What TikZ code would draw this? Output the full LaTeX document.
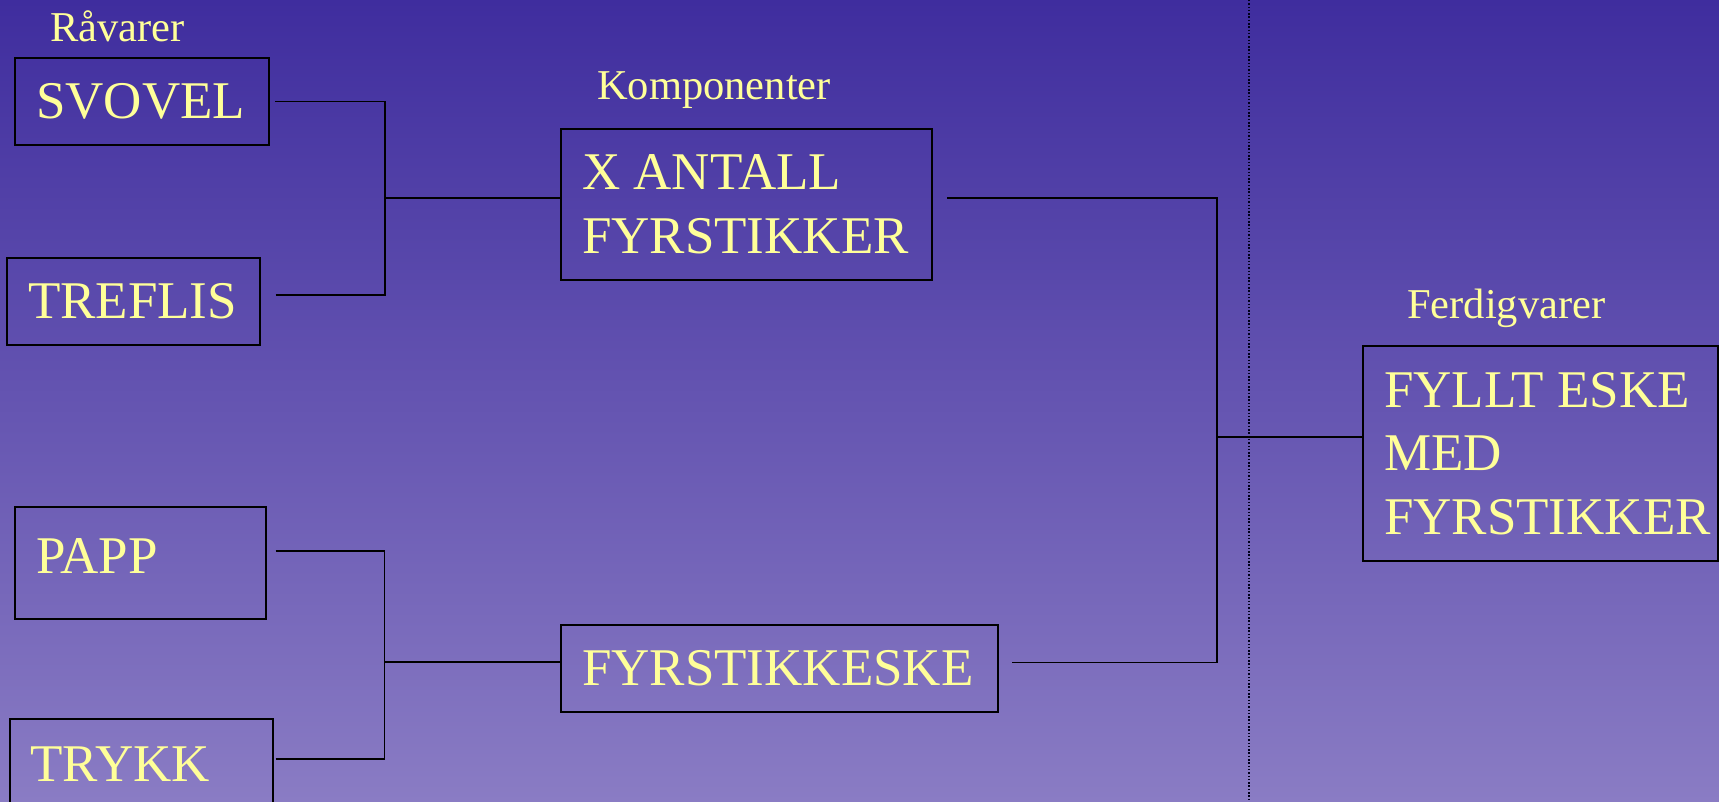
\documentclass[tikz,border=0pt]{standalone}
\usepackage{fontspec}
\setmainfont{Liberation Serif}
\usetikzlibrary{positioning, calc}
\definecolor{bgtop}{RGB}{63,45,158}
\definecolor{bgbot}{RGB}{138,124,196}
\definecolor{txt}{RGB}{255,255,153}
\tikzset{
    box/.style={draw=black, line width=2pt, anchor=north west, inner xsep=21pt, inner ysep=0pt, align=flush left, text=txt, font=\fontsize{53}{63.5}\selectfont},
    link/.style={line width=1.7pt},
    tag/.style={anchor=base west, inner sep=0pt, text=txt, font=\fontsize{42.5}{50}\selectfont},
    divider/.style={dash pattern=on 1.5pt off 1.8pt, line width=1.8pt, black!90!blue}
}

\begin{document}
\begin{tikzpicture}[x=1pt, y=-1pt]
    % Background
    \useasboundingbox (0,0) rectangle (1719,802);
    \shade[top color=bgtop, bottom color=bgbot] (0,0) rectangle (1719,802);
    \draw[divider] (1249,0) -- (1249,802);
    % Raw materials
    \node[tag] (ravarer) at (50,42) {Råvarer};
    \node[box, text width=211.5pt, minimum height=87pt] (svovel) at (14,57) {SVOVEL};
    \node[box, text width=211pt, minimum height=87pt] (treflis) at (6,257) {TREFLIS};
    \node[box, text width=208.5pt, minimum height=112pt, text depth=13pt] (papp) at (14,506) {PAPP};
    \node[box, text width=221pt, minimum height=112pt, text depth=21pt] (trykk) at (8.5,718) {TRYKK};
    % Components
    \node[tag] (komp) at (597,100) {Komponenter};
    \node[box, text width=329pt, minimum height=151pt] (xantall) at (560,128) {X~ANTALL\\FYRSTIKKER};
    \node[box, text width=395pt, minimum height=87pt] (fyrboks) at (560,624) {FYRSTIKKESKE};
    % Finished goods
    \node[tag] (ferdig) at (1407,319) {Ferdigvarer};
    \node[box, text width=313pt, minimum height=215pt] (fyllt) at (1362,345) {FYLLT~ESKE\\MED\\FYRSTIKKER};
    % Junctions
    \coordinate (ja) at (385,197.7);
    \coordinate (jb) at (384.5,661.7);
    \coordinate (jc) at (1217,437);
    % Links
    \draw[link] ([xshift=5.5pt]svovel.east) -| (ja);
    \draw[link] ([xshift=14.5pt,yshift=6.5pt]treflis.east) -| (ja);
    \draw[link] (ja) -- (ja -| xantall.west);
    \draw[link] ([xshift=9pt,yshift=12pt]papp.east) -| (jb);
    \draw[link] ([xshift=2pt,yshift=16pt]trykk.east) -| (jb);
    \draw[link] (jb) -- (jb -| fyrboks.west);
    \draw[link] ([xshift=14pt,yshift=6.5pt]xantall.east) -| (jc);
    \draw[link] ([xshift=13pt,yshift=6pt]fyrboks.east) -| (jc);
    \draw[link] (jc) -- (jc -| fyllt.west);
\end{tikzpicture}
\end{document}
